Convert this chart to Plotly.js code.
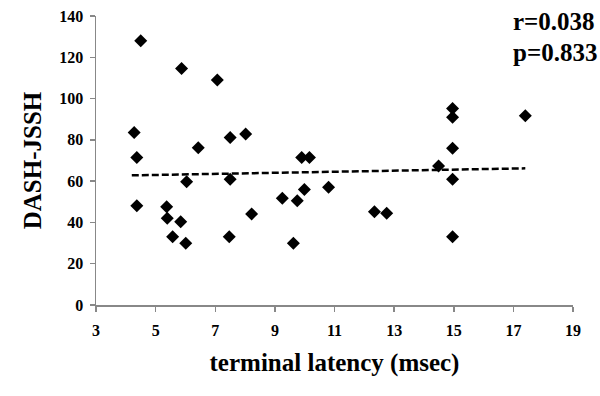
<!DOCTYPE html>
<html>
<head>
<meta charset="utf-8">
<script src="https://cdn.plot.ly/plotly-3.0.1.min.js"></script>
<style>html,body{margin:0;padding:0;background:#fff;}#chart{width:600px;height:396px;}</style>
</head>
<body>
<div id="chart"></div>
<script>
// terminal latency (msec)
const latency = [4.5, 5.87, 7.07, 4.28, 6.43, 7.5, 8.02, 4.37, 4.37, 5.37, 5.39, 5.57, 5.84, 6.01, 6.04, 7.5, 7.47, 8.22,
  9.9, 10.16, 9.25, 9.75, 9.99, 9.62, 10.8, 12.34, 12.75, 14.49, 14.96, 14.96, 14.96, 14.96, 14.96, 17.4];
// DASH-JSSH score
const dash = [128, 114.6, 109, 83.6, 76.2, 81.2, 82.8, 71.5, 48.1, 47.6, 42, 33.1, 40.3, 29.9, 59.7, 60.9, 33.1, 44.1,
  71.5, 71.5, 51.7, 50.5, 56, 29.9, 57, 45.2, 44.4, 67.3, 60.9, 33.1, 95.2, 90.9, 75.9, 91.7];
// dashed trend line
const trendX = [4.2, 17.4];
const trendY = [62.8, 66.2];
const xTicks = [3, 5, 7, 9, 11, 13, 15, 17, 19];
const yTicks = [0, 20, 40, 60, 80, 100, 120, 140];
const stats = ["r=0.038", "p=0.833"];

const font = "Liberation Serif, Times New Roman, serif";
const traces = [
  {x: trendX, y: trendY, mode: "lines", line: {color: "#000", width: 2.5, dash: "7px,3px"}, hoverinfo: "skip"},
  {x: latency, y: dash, mode: "markers", marker: {symbol: "diamond", size: 10, color: "#000"}}
];
const layout = {
  width: 600, height: 396,
  margin: {l: 96, r: 27, t: 16, b: 91},
  paper_bgcolor: "#fff", plot_bgcolor: "#fff",
  showlegend: false,
  font: {family: font, color: "#000"},
  xaxis: {
    range: [3, 19], tickvals: xTicks, ticktext: xTicks.map(String),
    showgrid: false, zeroline: false, showline: true, linecolor: "#888", linewidth: 1.5,
    ticks: "outside", ticklen: 5, tickcolor: "#888", tickwidth: 1.5,
    ticklabelstandoff: 5,
    tickfont: {family: font, size: 16, color: "#000", weight: "bold"},
    title: {text: "terminal latency (msec)", font: {family: font, size: 25, color: "#000", weight: "bold"}, standoff: 16}
  },
  yaxis: {
    range: [0, 140], tickvals: yTicks, ticktext: yTicks.map(String),
    showgrid: false, zeroline: false, showline: true, linecolor: "#888", linewidth: 1.5,
    ticks: "outside", ticklen: 5, tickcolor: "#888", tickwidth: 1.5,
    ticklabelstandoff: 3,
    tickfont: {family: font, size: 16, color: "#000", weight: "bold"},
    title: {text: "DASH-JSSH", font: {family: font, size: 25, color: "#000", weight: "bold"}, standoff: 10}
  },
  annotations: stats.map((t, i) => ({
    text: t, xref: "paper", yref: "paper", x: (511 - 96) / 477, y: 1 - (i * 30 + 6) / 289,
    xanchor: "left", yanchor: "middle", showarrow: false,
    font: {family: font, size: 25, color: "#000", weight: "bold"}
  }))
};
Plotly.newPlot("chart", traces, layout, {displayModeBar: false, staticPlot: true});
</script>
</body>
</html>
